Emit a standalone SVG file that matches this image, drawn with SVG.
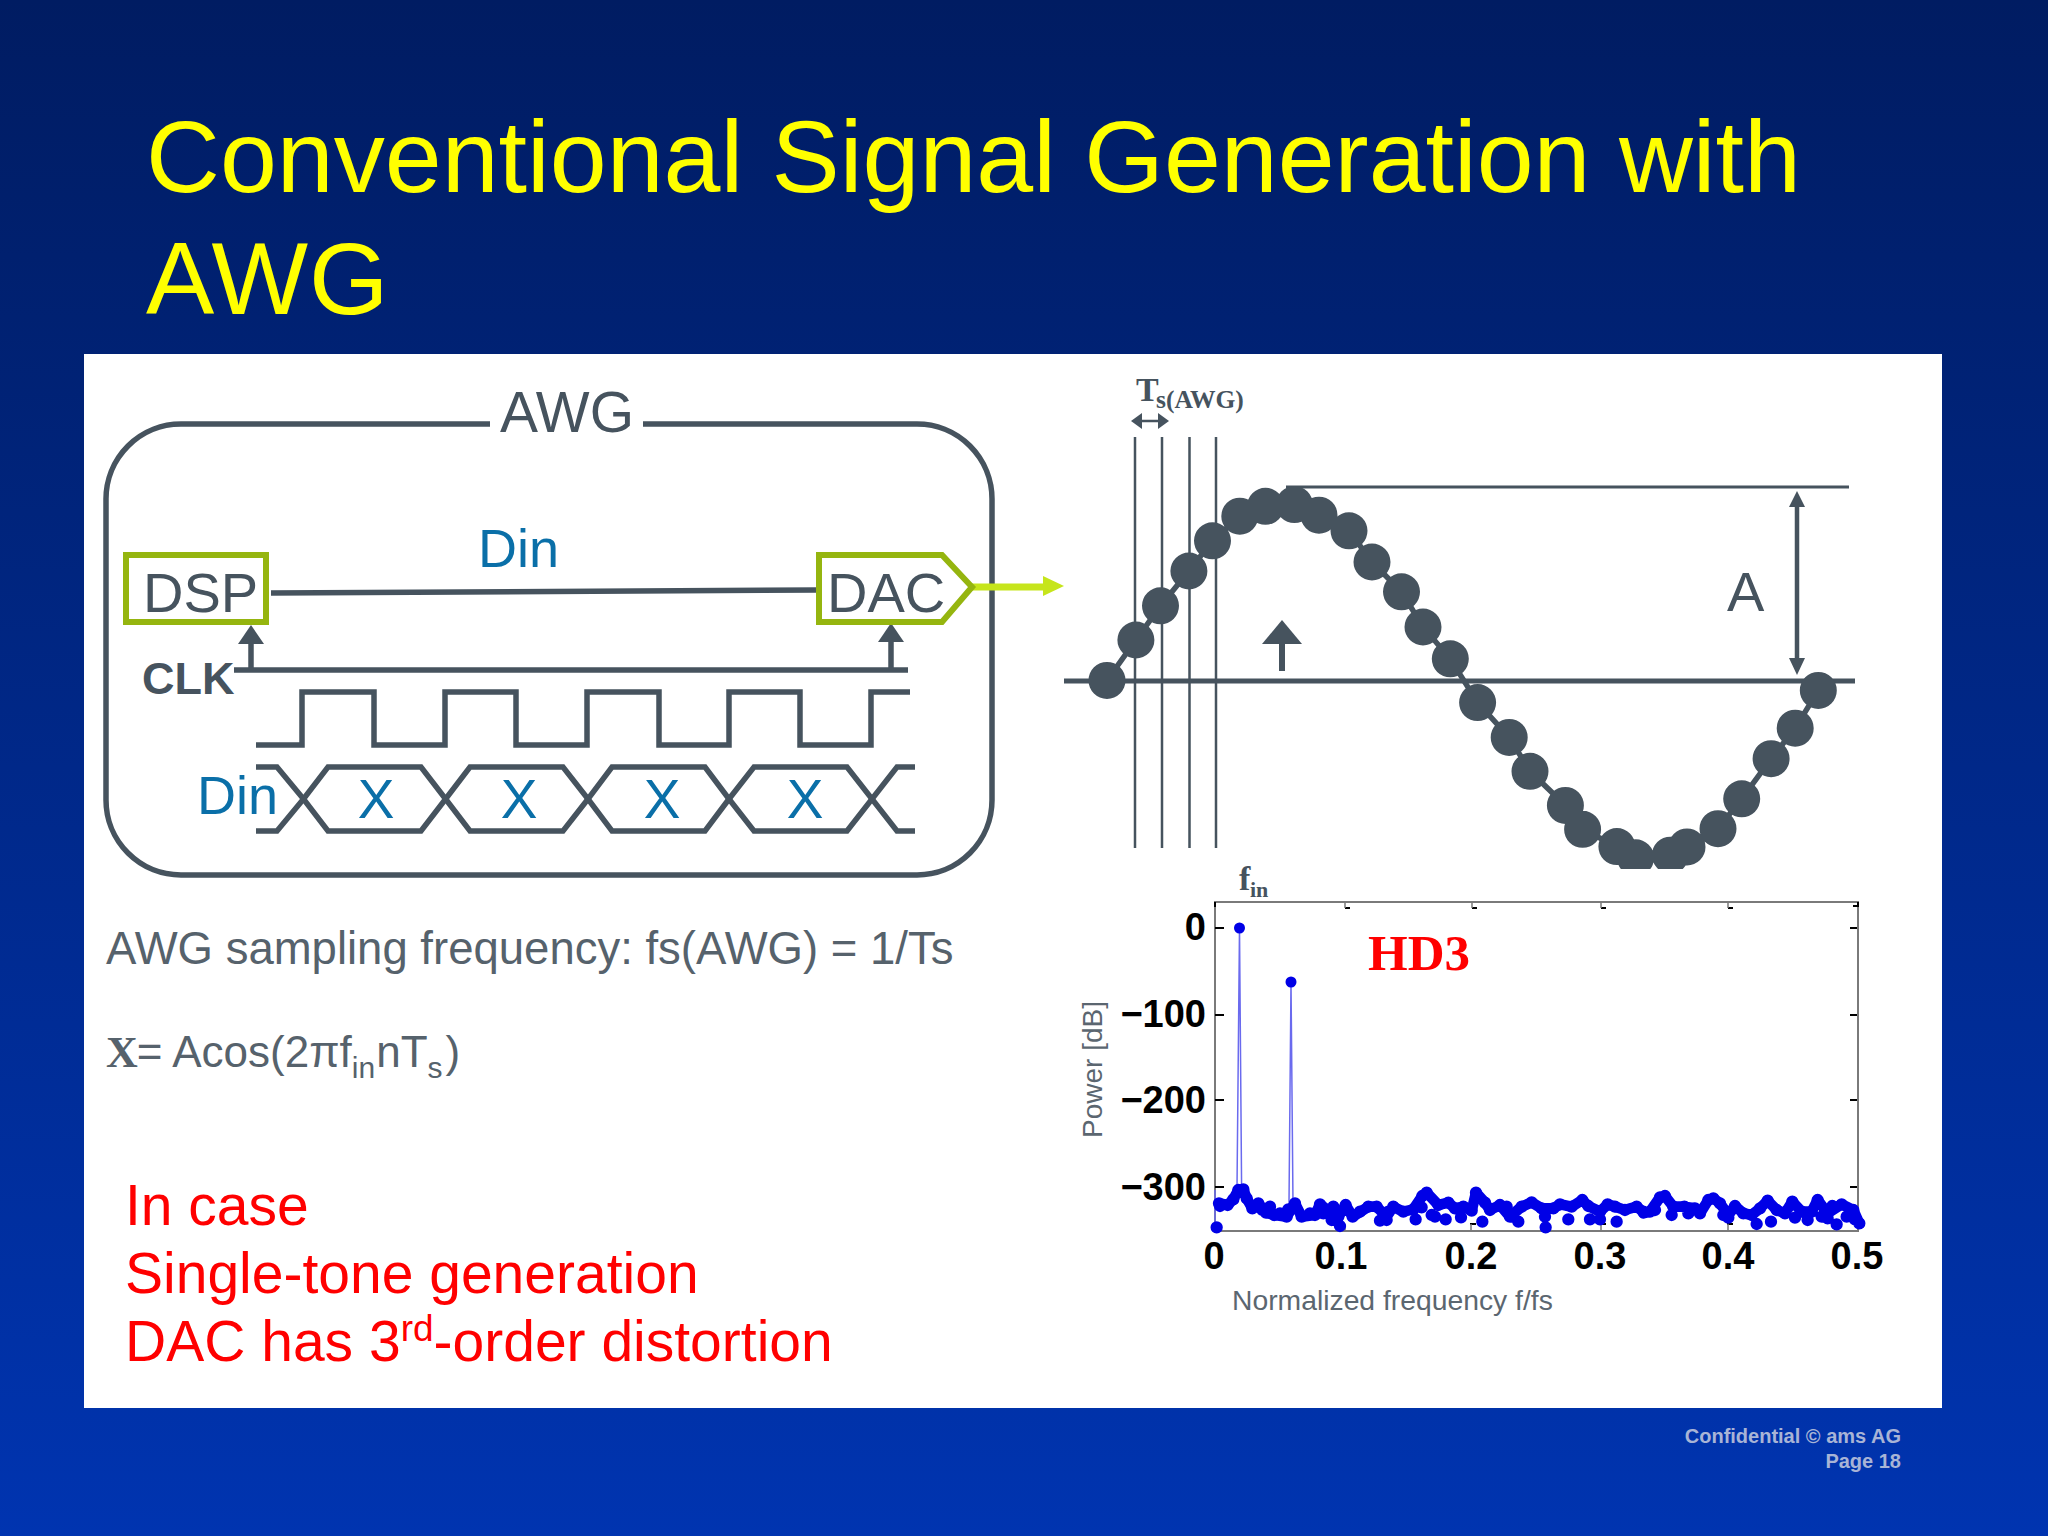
<svg xmlns="http://www.w3.org/2000/svg" width="2048" height="1536" viewBox="0 0 2048 1536">
<defs>
<linearGradient id="bg" x1="0" y1="0" x2="0" y2="1"><stop offset="0" stop-color="#001c62"/><stop offset="1" stop-color="#0034b0"/></linearGradient>
<clipPath id="sineClip"><rect x="1060" y="430" width="800" height="439"/></clipPath>
<style>
text{font-family:"Liberation Sans",Arial,sans-serif}
.serif{font-family:"Liberation Serif","Times New Roman",serif;font-weight:bold}
.ln{fill:none;stroke:#46535e;stroke-width:5.500}
.thin{fill:none;stroke:#46535e;stroke-width:2.500}
.gr{fill:#46535e}
.bl{fill:#0a6fa8}
.m{font-size:56px;fill:#46535e}
.blk{font-size:38px;font-weight:bold;fill:#000}
.note{font-size:45.500px;fill:#56626c}
.red{font-size:57px;fill:#f00}
.title{font-size:102.300px;fill:#ff0}
.foot{font-size:20px;font-weight:bold;fill:#a8b4d6;text-anchor:end}
.box{fill:#fff;stroke:#95b50f;stroke-width:6}
.tick{fill:none;stroke:#000;stroke-width:2}
.frame{fill:none;stroke:#7a7a7a;stroke-width:2}
.band{fill:none;stroke:#0000e6;stroke-linejoin:round;stroke-linecap:round;stroke-width:32}
</style>
</defs>
<rect id="background" width="2048" height="1536" fill="url(#bg)"/>
<g id="title"><text class="title" x="146" y="192">Conventional Signal Generation with</text><text class="title" x="146" y="314" letter-spacing="1">AWG</text></g>
<rect id="panel" x="84" y="354" width="1858" height="1054" fill="#fff"/>

<g id="awg-frame"><path class="ln" d="M490 424H181A75 75 0 0 0 106 499V800A75 75 0 0 0 181 875H917A75 75 0 0 0 992 800V499A75 75 0 0 0 917 424H643"/><text class="m" style="font-size:57px" x="567" y="432" text-anchor="middle">AWG</text></g>

<g id="connectors">
<path class="ln" d="M271 593L818 590"/>
<path class="ln" d="M234 670H908"/>
<path d="M251 670V640" class="ln"/><path class="gr" d="M251 625L264 644H238Z"/>
<path d="M891 670V640" class="ln"/><path class="gr" d="M891 623L904 642H878Z"/>
<path d="M972 587H1048" fill="none" stroke="#c6e51b" stroke-width="7"/><path fill="#c6e51b" d="M1064 586L1043 576V596Z"/>
</g>

<g id="dsp"><rect class="box" x="126" y="555" width="140" height="67"/><text class="m" x="143" y="612">DSP</text></g>
<g id="dac"><path class="box" d="M819 555H942L972 587L942 622H819Z"/><text class="m" x="827" y="612">DAC</text></g>
<g id="din-label"><text class="bl" font-size="54" x="478" y="567">Din</text></g>
<g id="clk"><text font-size="45" font-weight="bold" fill="#46535e" x="142" y="694">CLK</text>
<path class="ln" d="M256 745H302V692H374V745H445V692H516V745H587V692H659V745H729V692H800V745H871V692H910"/></g>
<g id="din-wave"><text class="bl" font-size="54" x="197" y="814">Din</text>
<path class="ln" d="M256 767H277L303.500 799L328 831H421L445.600 799L470 767H563L588 799L612 831H705L729 799L754 767H847L872 799L897 831H915"/>
<path class="ln" d="M256 831H277L303.500 799L328 767H421L445.600 799L470 831H563L588 799L612 767H705L729 799L754 831H847L872 799L897 767H915"/>
<g class="bl" font-size="55" text-anchor="middle"><text x="376" y="818">X</text><text x="519" y="818">X</text><text x="662" y="818">X</text><text x="805" y="818">X</text></g></g>

<g id="notes">
<text class="note" x="106" y="964">AWG sampling frequency: fs(AWG) = 1/Ts</text>
<text class="note" style="font-size:44px" x="106" y="1067"><tspan class="serif">X</tspan><tspan dx="-1">= Acos(2πf</tspan><tspan font-size="30" dy="11">in</tspan><tspan dy="-11" dx="1">n</tspan>T<tspan font-size="30" dy="11">s</tspan><tspan dy="-11" dx="3">)</tspan></text>
<text class="red" x="125" y="1225">In case</text>
<text class="red" x="125" y="1293">Single-tone generation</text>
<text class="red" x="125" y="1361">DAC has 3<tspan font-size="37" dy="-20">rd</tspan><tspan dy="20">-order distortion</tspan></text>
</g>

<g id="sine-plot">
<text class="serif" font-size="34" fill="#46535e" x="1136" y="401">T</text><text class="serif" font-size="25.500" fill="#46535e" x="1156" y="408">s(AWG)</text>
<path class="thin" d="M1135 437V848M1162 437V848M1189.500 437V848M1216 437V848"/>
<path fill="none" stroke="#46535e" stroke-width="3" d="M1286 487H1849"/>
<path d="M1064 681H1855" fill="none" stroke="#46535e" stroke-width="5"/>
<path class="thin" stroke-width="3" d="M1138 421H1162"/><path class="gr" d="M1131 421L1142 413V429ZM1169 421L1158 413V429Z"/>
<path d="M1797 500V660" fill="none" stroke="#46535e" stroke-width="4.500"/><path class="gr" d="M1797 491L1805 507H1789ZM1797 675L1805 658H1789Z"/>
<text class="m" x="1727" y="611">A</text>
<path d="M1282 640V671" fill="none" stroke="#46535e" stroke-width="6"/><path class="gr" d="M1282 620L1302 644H1262Z"/>
<g clip-path="url(#sineClip)"><g transform="translate(0,1)">
<path class="ln" d="M1107 679.400L1135.900 639L1160.500 604.800L1188.900 570L1212.500 539.800L1239.800 515.200L1265.500 505.300L1294.400 503.600L1319 514.200L1349 529.800L1372 561L1401.500 590.800L1423 626L1450.300 657.800L1477.600 701.600L1509.200 736.400L1530 770.300L1565.400 804.400L1582.600 828.300L1616.900 845.600L1635.600 856.800L1670.400 854.200L1687 845.900L1718 827.700L1741.700 797.800L1771.100 757.700L1795.200 727.200L1818.300 689.400"/>
<path fill="none" stroke="#46535e" stroke-width="37" stroke-linecap="round" d="M1107 679.400h0M1135.900 639h0M1160.500 604.800h0M1188.900 570h0M1212.500 539.800h0M1239.800 515.200h0M1265.500 505.300h0M1294.400 503.600h0M1319 514.200h0M1349 529.800h0M1372 561h0M1401.500 590.800h0M1423 626h0M1450.300 657.800h0M1477.600 701.600h0M1509.200 736.400h0M1530 770.300h0M1565.400 804.400h0M1582.600 828.300h0M1616.900 845.600h0M1635.600 856.800h0M1670.400 854.200h0M1687 845.900h0M1718 827.700h0M1741.700 797.800h0M1771.100 757.700h0M1795.200 727.200h0M1818.300 689.400h0"/>
</g></g>
</g>

<g id="spectrum">
<text class="serif" font-size="34" font-weight="normal" fill="#46535e" x="1239" y="890">f</text><text class="serif" font-size="22" fill="#46535e" x="1250" y="897">in</text>
<path class="frame" d="M1215 902H1858V1231H1215Z"/>
<path class="tick" d="M1215 907V902M1345 908H1350M1472 908H1477M1601 908H1606M1728 908H1733M1853 906H1858V902M1215 928H1224M1215 1015H1224M1215 1100H1224M1215 1187H1224M1850 928H1857M1850 1015H1857M1850 1100H1857M1850 1187H1857M1470 1224H1476M1600 1224H1606M1727 1224H1733"/>
<path fill="none" stroke="#7a7a7a" stroke-width="1.500" d="M1345 902V908M1472 902V908M1601 902V908M1728 902V908M1345 1231V1224M1471 1231V1224M1601 1231V1224M1728 1231V1224"/>
<g class="blk" text-anchor="end"><text x="1206" y="940">0</text><text x="1206" y="1027">−100</text><text x="1206" y="1113">−200</text><text x="1206" y="1200">−300</text></g>
<g class="blk" text-anchor="middle"><text x="1214" y="1269">0</text><text x="1341" y="1269">0.1</text><text x="1471" y="1269">0.2</text><text x="1600" y="1269">0.3</text><text x="1728" y="1269">0.4</text><text x="1857" y="1269">0.5</text></g>
<text font-size="28" fill="#5b6670" transform="translate(1102,1138) rotate(-90)">Power [dB]</text>
<text font-size="28.300" fill="#5b6670" x="1232" y="1310">Normalized frequency f/fs</text>
<text class="serif" font-size="51" fill="#f00" x="1368" y="970">HD3</text>
<path fill="none" stroke="#6a6aee" stroke-width="1.500" d="M1237 1188L1239.500 928L1241.600 1188M1289 1204L1291 982L1293 1204M1215 1231V1190"/>
<path fill="none" stroke="#0000e6" stroke-width="11" stroke-linecap="round" d="M1239.500 928h0M1291 982h0"/>
<g fill="none" stroke="#0000e6" stroke-linecap="round" stroke-width="37">
<path transform="translate(1205,1170) scale(.3333)" d="M35 172h0M42 100h0M45 108h0M68 105h0M85 88h0M100 60h0M115 58h0M125 85h0M142 115h0M160 100h0M172 120h0M183 128h0M195 110h0M208 135h0M225 130h0M245 140h0M250 118h0M270 100h0M290 140h0M315 130h0M330 135h0M345 103h0M355 130h0M380 150h0M385 110h0M400 140h0M405 168h0M422 105h0M443 140h0M465 125h0M490 110h0M515 110h0M525 152h0M545 150h0M550 125h0M565 110h0M595 125h0M632 148h0M625 118h0M650 112h0M652 78h0"/>
<path transform="translate(1425,1170) scale(.3333)" d="M5 68h0M20 135h0M30 140h0M40 105h0M62 148h0M70 98h0M90 115h0M108 142h0M115 110h0M140 122h0M153 68h0M172 155h0M180 98h0M195 120h0M225 105h0M245 110h0M255 140h0M280 155h0M290 110h0M320 97h0M350 115h0M360 140h0M362 172h0M385 115h0M405 103h0M430 148h0M440 110h0M472 90h0M490 108h0M495 148h0M525 148h0M525 125h0M548 103h0M570 110h0M575 155h0M600 120h0M635 110h0M655 125h0"/>
<path transform="translate(1645,1170) scale(.3333)" d="M15 125h0M30 120h0M45 82h0M60 78h0M80 135h0M85 110h0M118 110h0M130 130h0M150 115h0M165 130h0M190 90h0M205 85h0M225 100h0M235 135h0M250 143h0M270 108h0M295 130h0M320 135h0M335 162h0M345 115h0M368 92h0M378 155h0M395 120h0M420 130h0M442 95h0M450 143h0M470 125h0M488 150h0M500 125h0M518 90h0M530 140h0M548 145h0M562 108h0M575 163h0M590 103h0M605 140h0M625 120h0M630 148h0M643 160h0"/>
</g>
<path class="band" transform="translate(1205,1170) scale(.3333)" d="M42 100L68 105L85 88L100 60L115 58L125 85L142 115L160 100L183 128L208 135L245 140L270 100L290 140L330 135L345 103L380 130L400 140L422 105L443 140L490 110L515 110L545 140L565 110L595 125L625 118L652 78"/>
<path class="band" transform="translate(1425,1170) scale(.3333)" d="M-8 78L5 68L40 105L70 98L90 115L115 110L140 122L153 68L180 98L195 120L225 105L255 140L290 110L320 97L350 115L385 115L405 103L440 110L472 90L490 108L525 125L548 103L570 110L600 120L635 110L655 125"/>
<path class="band" transform="translate(1645,1170) scale(.3333)" d="M-5 130L15 125L45 82L60 78L85 110L118 110L150 115L165 130L190 90L205 85L225 100L250 135L270 108L295 130L320 135L345 115L368 92L395 120L420 130L442 95L470 125L500 125L518 90L548 130L590 103L625 120L643 160"/>
</g>
<g id="footer"><text class="foot" x="1901" y="1443">Confidential © ams AG</text><text class="foot" x="1901" y="1468">Page 18</text></g>
</svg>
